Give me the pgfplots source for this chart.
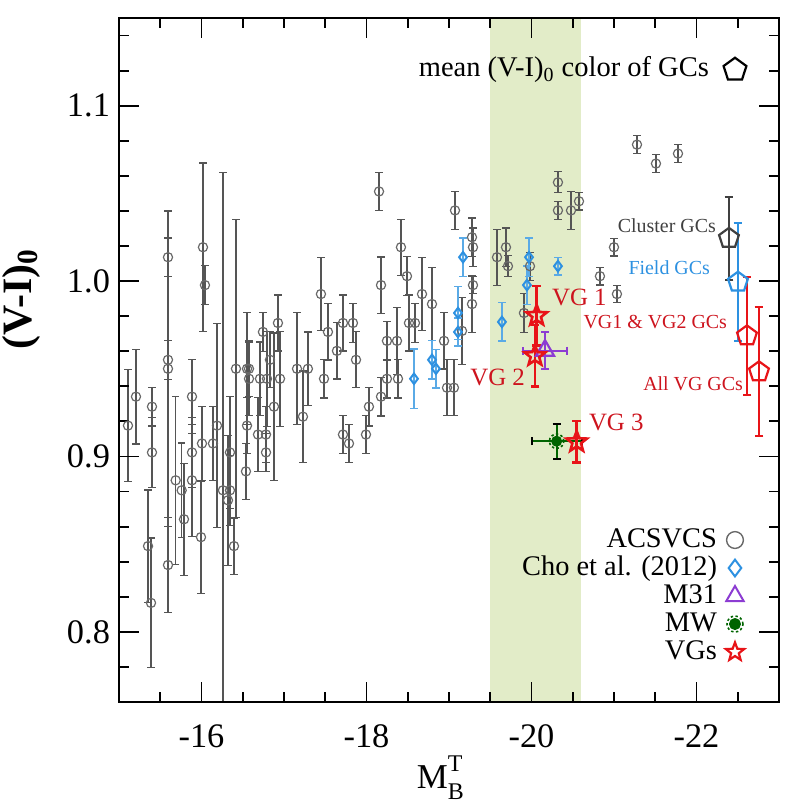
\documentclass[border=0pt]{standalone}
\usepackage{fontspec}
\setmainfont{Liberation Serif}
\usepackage{pgfplots}
\usepackage{pgfplotstable}
\pgfplotsset{compat=1.18}
\usetikzlibrary{plotmarks}

\definecolor{bandc}{RGB}{226,236,200}
\definecolor{grayc}{RGB}{105,105,105}
\definecolor{grayb}{RGB}{85,85,85}
\definecolor{bluec}{RGB}{45,145,225}
\definecolor{blueb}{RGB}{90,170,230}
\definecolor{redc}{RGB}{232,20,24}
\definecolor{redt}{RGB}{205,20,30}
\definecolor{purc}{RGB}{140,60,210}
\definecolor{mwg}{RGB}{0,100,0}

\pgfdeclareplotmark{ostar}{%
  \pgfpathmoveto{\pgfpointpolar{90}{\pgfplotmarksize}}%
  \pgfpathlineto{\pgfpointpolar{126}{0.42\pgfplotmarksize}}%
  \pgfpathlineto{\pgfpointpolar{162}{\pgfplotmarksize}}%
  \pgfpathlineto{\pgfpointpolar{198}{0.42\pgfplotmarksize}}%
  \pgfpathlineto{\pgfpointpolar{234}{\pgfplotmarksize}}%
  \pgfpathlineto{\pgfpointpolar{270}{0.42\pgfplotmarksize}}%
  \pgfpathlineto{\pgfpointpolar{306}{\pgfplotmarksize}}%
  \pgfpathlineto{\pgfpointpolar{342}{0.42\pgfplotmarksize}}%
  \pgfpathlineto{\pgfpointpolar{18}{\pgfplotmarksize}}%
  \pgfpathlineto{\pgfpointpolar{54}{0.42\pgfplotmarksize}}%
  \pgfpathclose\pgfusepathqstroke}
\pgfdeclareplotmark{mw}{%
  \pgfpathcircle{\pgfpointorigin}{0.65\pgfplotmarksize}\pgfusepathqfillstroke
  \pgfsetdash{{1.2bp}{1.2bp}}{0bp}%
  \pgfpathcircle{\pgfpointorigin}{\pgfplotmarksize}\pgfusepathqstroke}

\pgfplotstableread{
x y ey
-15.109 0.9176 0.032
-15.206 0.9341 0.027
-15.352 0.8489 0.032
-15.388 0.8165 0.037
-15.400 0.9284 0.011
-15.400 0.9023 0.020
-15.594 1.0136 0.011
-15.594 0.9551 0.011
-15.594 0.9500 0.090
-15.594 0.8381 0.027
-15.687 0.8864 0.048
-15.760 0.8807 0.027
-15.788 0.8642 0.032
-15.885 0.9341 0.021
-15.885 0.9023 0.020
-15.885 0.8864 0.032
-16.018 1.0193 0.048
-16.042 0.9977 0.011
-16.006 0.9074 0.021
-15.994 0.8540 0.032
-16.139 0.9074 0.021
-16.188 0.9176 0.058
-16.260 0.8807 0.181
-16.345 0.9023 0.032
-16.345 0.8807 0.020
-16.321 0.8750 0.037
-16.394 0.8489 0.016
-16.418 0.9500 0.085
-16.552 0.9500 0.032
-16.576 0.9500 0.016
-16.576 0.9443 0.021
-16.552 0.9176 0.016
-16.539 0.8915 0.016
-16.709 0.9443 0.021
-16.685 0.9125 0.021
-16.745 0.9710 0.011
-16.782 0.9125 0.016
-16.782 0.9023 0.011
-16.794 0.9443 0.027
-16.830 0.9551 0.016
-16.879 0.9284 0.042
-16.927 0.9761 0.016
-16.952 0.9443 0.027
-17.158 0.9500 0.032
-17.230 0.9227 0.026
-17.290 0.9500 0.021
-17.448 0.9926 0.021
-17.533 0.9710 0.016
-17.485 0.9443 0.011
-17.642 0.9602 0.016
-17.715 0.9761 0.016
-17.715 0.9125 0.011
-17.788 0.9074 0.011
-17.836 0.9761 0.011
-17.873 0.9551 0.016
-17.994 0.9125 0.011
-18.030 0.9284 0.011
-18.152 1.0511 0.011
-18.176 0.9977 0.016
-18.176 0.9341 0.011
-18.248 0.9659 0.011
-18.248 0.9443 0.011
-18.370 0.9659 0.019
-18.382 0.9443 0.011
-18.418 1.0193 0.016
-18.491 1.0028 0.011
-18.515 0.9761 0.016
-18.588 0.9761 0.011
-18.673 0.9926 0.021
-18.794 0.9869 0.021
-18.940 0.9659 0.016
-18.976 0.9392 0.016
-19.060 0.9392 0.016
-19.073 1.0403 0.011
-19.158 0.9716 0.019
-19.279 0.9869 0.016
-19.291 0.9977 0.005
-19.279 1.0250 0.011
-19.291 1.0193 0.011
-19.582 1.0136 0.016
-19.691 1.0193 0.011
-19.715 1.0085 0.006
-19.909 0.9818 0.011
-19.982 1.0085 0.008
-20.321 1.0563 0.006
-20.321 1.0403 0.005
-20.479 1.0403 0.011
-20.576 1.0455 0.005
-20.830 1.0028 0.005
-21.000 1.0193 0.005
-21.036 0.9926 0.005
-21.279 1.0778 0.005
-21.509 1.0670 0.005
-21.776 1.0727 0.005
}\acsvcs

\pgfplotstableread{
x y ey
-19.170 1.0136 0.011
-19.109 0.9818 0.015
-19.109 0.9710 0.008
-18.794 0.9551 0.011
-18.842 0.9500 0.011
-18.576 0.9443 0.017
-19.642 0.9767 0.011
-19.970 1.0136 0.011
-19.945 0.9977 0.011
-20.321 1.0085 0.005
}\cho

\begin{document}
\begin{tikzpicture}
\path[use as bounding box] (-59.5bp,-52.5bp) rectangle (337.5bp,351bp);
\begin{axis}[
  at={(0,0)}, anchor=south west, scale only axis,
  width=330bp, height=342bp,
  x dir=reverse, xmin=-23, xmax=-15, ymin=0.76, ymax=1.15,
  xtick={-22,-20,-18,-16},
  xticklabels={\textrm{-22},\textrm{-20},\textrm{-18},\textrm{-16}},
  minor xtick={-15.5,-16.5,-17,-17.5,-18.5,-19,-19.5,-20.5,-21,-21.5,-22.5},
  ytick={0.8,0.9,1.0,1.1},
  yticklabels={\textrm{0.8},\textrm{0.9},\textrm{1.0},\textrm{1.1}},
  minor ytick={0.78,0.82,0.84,0.86,0.88,0.92,0.94,0.96,0.98,1.02,1.04,1.06,1.08,1.12,1.14},
  xtick pos=both, ytick pos=both,
  tick align=inside,
  major tick length=10bp, minor tick length=5bp,
  every tick/.style={black, line width=0.9bp},
  axis line style={line width=1bp},
  ticklabel style={font=\fontsize{17.25}{18}\selectfont},
  xticklabel style={yshift=-8bp},
  yticklabel style={xshift=-1bp},
  axis on top,
  xlabel={M\rlap{\raisebox{8.5bp}{\fontsize{12}{12}\selectfont T}}\raisebox{-5.5bp}{\fontsize{12}{12}\selectfont B}},
  xlabel style={font=\fontsize{17.5}{18}\selectfont, at={(axis description cs:0.487,0)}, anchor=base, yshift=-43bp},
  ylabel={\textbf{(V-I)\textsubscript{0}}},
  ylabel style={font=\fontsize{21}{22}\selectfont, at={(axis description cs:-0.148,0.589)}, anchor=center},
  legend style={at={(axis description cs:0.9576,0.0526)}, anchor=south east, draw=none, fill=none,
    inner sep=0bp, outer sep=0bp,
    font=\fontsize{14.25}{14}\selectfont, row sep=0bp,
    nodes={inner sep=1bp, text height=9.5bp, text depth=2.5bp}},
  legend plot pos=right, legend cell align=right,
  legend image code/.code={\path[draw=none, fill=none] (0bp,0bp) -- (16bp,0bp); \draw[mark repeat=2, mark phase=2, #1] plot coordinates {(0bp,0bp) (8bp,0bp) (16bp,0bp)};},
]
% shaded band
\addplot[draw=none, fill=bandc, forget plot] coordinates {(-19.5,0.76) (-19.5,1.15) (-20.6,1.15) (-20.6,0.76)} \closedcycle;

% ACSVCS
\addplot[forget plot, only marks, mark=o, mark size=2.3bp, color=grayc, line width=0.6bp,
  error bars/.cd, y dir=both, y explicit,
  error bar style={color=grayb, line width=0.6bp},
  error mark options={rotate=90, color=grayb, mark size=1.8bp, line width=0.6bp}]
  table[x=x, y=y, y error=ey] {\acsvcs};

% Cho et al. 2012
\addplot[forget plot, only marks, mark=diamond, mark size=2.6bp, color=bluec, line width=1bp,
  error bars/.cd, y dir=both, y explicit,
  error bar style={color=blueb, line width=0.8bp},
  error mark options={rotate=90, color=blueb, mark size=1.8bp, line width=0.8bp}]
  table[x=x, y=y, y error=ey] {\cho};

% mean colours of GCs (pentagons)
\addplot[forget plot, only marks, mark=pentagon, mark size=5.2bp, color=black!75, line width=1.1bp,
  error bars/.cd, y dir=both, y explicit, error bar style={line width=1bp},
  error mark options={rotate=90, mark size=2.2bp, line width=1bp}]
  coordinates {(-22.394,1.0244) +- (0,0.0236)};
\addplot[forget plot, only marks, mark=pentagon, mark size=5.2bp, color=bluec, line width=1.1bp,
  error bars/.cd, y dir=both, y explicit, error bar style={line width=1bp},
  error mark options={rotate=90, mark size=2.2bp, line width=1bp}]
  coordinates {(-22.503,0.9994) +- (0,0.0335)};
\addplot[forget plot, only marks, mark=pentagon, mark size=5.2bp, color=redc, line width=1.1bp,
  error bars/.cd, y dir=both, y explicit, error bar style={line width=1bp},
  error mark options={rotate=90, mark size=2.2bp, line width=1bp}]
  coordinates {(-22.612,0.9688) +- (0,0.0335) (-22.758,0.9483) +- (0,0.0367)};
% pentagon symbol of the annotation
\addplot[forget plot, only marks, mark=pentagon, mark size=6bp, color=black, line width=1.1bp]
  coordinates {(-22.467,1.1205)};

% M31
\addplot[forget plot, only marks, mark=triangle, mark size=5.2bp, color=purc, line width=1.1bp,
  error bars/.cd, x dir=both, x explicit, y dir=both, y explicit,
  error bar style={line width=1bp}, error mark options={rotate=90, mark size=2bp, line width=1bp}]
  coordinates {(-20.164,0.9604) +- (0.263,0.0105)};

% MW
\addplot[forget plot, only marks, mark=mw, mark size=3.6bp, draw=mwg, fill=mwg, line width=0.8bp,
  error bars/.cd, x dir=both, x explicit, y dir=both, y explicit,
  error bar style={line width=1bp, solid}, error mark options={rotate=90, mark size=2bp, line width=1bp, solid}]
  coordinates {(-20.305,0.9087) +- (0.303,0.010)};

% VGs
\addplot[forget plot, only marks, mark=ostar, mark size=5.4bp, color=redc, line width=1.3bp,
  error bars/.cd, y dir=both, y explicit,
  error bar style={line width=1.2bp}, error mark options={rotate=90, mark size=2.2bp, line width=1.2bp}]
  coordinates {(-20.063,0.9803) +- (0,0.017) (-20.042,0.9574) +- (0,0.0176) (-20.548,0.9083) +- (0,0.0118)};

% legend images
\addlegendimage{only marks, mark=o, mark size=4.2bp, color=grayc, line width=0.7bp}
\addlegendentry{ACSVCS}
\addlegendimage{only marks, mark=diamond, mark size=4.2bp, color=bluec, line width=1bp}
\addlegendentry{Cho et al. (2012)}
\addlegendimage{only marks, mark=triangle, mark size=5bp, color=purc, line width=1bp}
\addlegendentry{M31}
\addlegendimage{only marks, mark=mw, mark size=4bp, draw=mwg, fill=mwg, line width=0.8bp}
\addlegendentry{MW}
\addlegendimage{only marks, mark=ostar, mark size=4.8bp, color=redc, line width=1.1bp}
\addlegendentry{VGs}

% annotations
\node[anchor=base east, font=\fontsize{14.3}{15}\selectfont] at (axis cs:-22.236,1.1165) {mean (V-I)\textsubscript{0} color of GCs};
\node[anchor=base east, font=\fontsize{10}{11}\selectfont, text=black!75] at (axis cs:-22.32,1.0276) {Cluster GCs};
\node[anchor=base east, font=\fontsize{10}{11}\selectfont, text=bluec] at (axis cs:-22.248,1.0037) {Field GCs};
\node[anchor=base east, font=\fontsize{10}{11}\selectfont, text=redt] at (axis cs:-22.455,0.973) {VG1 \& VG2 GCs};
\node[anchor=base east, font=\fontsize{10}{11}\selectfont, text=redt] at (axis cs:-22.648,0.9378) {All VG GCs};
\node[anchor=base west, font=\fontsize{12.5}{13}\selectfont, text=redt] at (axis cs:-20.164,0.9858) {VG 1};
\node[anchor=base east, font=\fontsize{12.5}{13}\selectfont, text=redt] at (axis cs:-20.006,0.9403) {VG 2};
\node[anchor=base west, font=\fontsize{12.5}{13}\selectfont, text=redt] at (axis cs:-20.612,0.9148) {VG 3};
\end{axis}
\end{tikzpicture}
\end{document}
